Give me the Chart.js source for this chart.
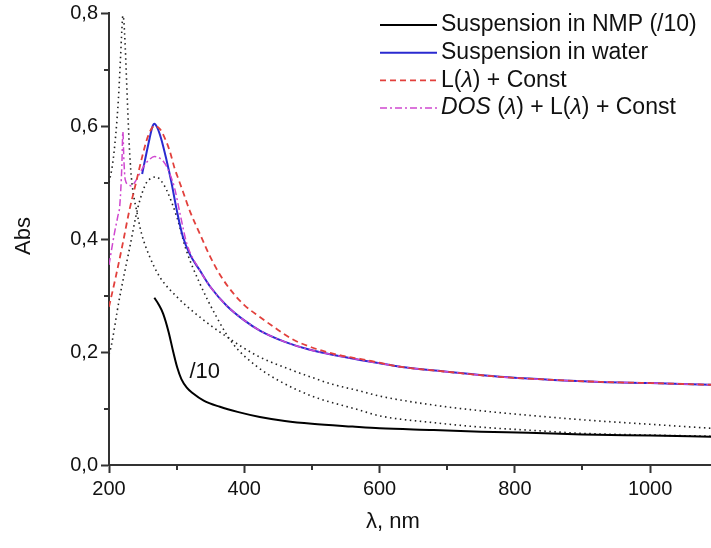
<!DOCTYPE html>
<html>
<head>
<meta charset="utf-8">
<title>Abs spectra</title>
<script src="https://cdn.jsdelivr.net/npm/chart.js@4.4.1/dist/chart.umd.min.js"></script>
<style>
  html, body { margin: 0; padding: 0; background: #fff; }
  #wrap { width: 711px; height: 548px; }
</style>
</head>
<body>
<div id="wrap"><canvas id="absChart" width="711" height="548"></canvas></div>
<script>
// wavelength (nm) / absorbance
const nmpX = [267, 273, 280, 288, 295, 301, 307, 315, 324, 340, 364, 390, 423, 460, 500, 560, 600, 680, 750, 820, 900, 1000, 1090];
const nmpY = [0.296, 0.285, 0.268, 0.236, 0.200, 0.172, 0.152, 0.137, 0.127, 0.114, 0.103, 0.094, 0.085, 0.078, 0.073, 0.068, 0.065, 0.062, 0.059, 0.057, 0.054, 0.052, 0.050];

const waterX = [249, 255, 260, 264, 267, 271, 277, 285, 292, 300, 309, 320, 334, 350, 374, 400, 423, 460, 497, 540, 571, 600, 630, 700, 778, 850, 927, 1000, 1090];
const waterY = [0.515, 0.550, 0.578, 0.598, 0.604, 0.598, 0.578, 0.540, 0.502, 0.452, 0.405, 0.372, 0.345, 0.315, 0.282, 0.256, 0.238, 0.218, 0.204, 0.193, 0.186, 0.180, 0.174, 0.165, 0.156, 0.151, 0.147, 0.145, 0.142];

const lorX = [200, 210, 220, 230, 240, 250, 258, 267, 275, 282, 290, 297, 303, 309, 320, 334, 349, 365, 383, 400, 423, 450, 472, 500, 522, 550, 571, 600, 630, 700, 778, 850, 927, 1000, 1090];
const lorY = [0.280, 0.333, 0.390, 0.450, 0.500, 0.550, 0.583, 0.600, 0.595, 0.580, 0.555, 0.525, 0.505, 0.485, 0.448, 0.410, 0.370, 0.335, 0.305, 0.283, 0.262, 0.239, 0.222, 0.208, 0.200, 0.192, 0.188, 0.181, 0.174, 0.165, 0.156, 0.151, 0.147, 0.145, 0.142];

const dosX = [200, 208, 213, 216, 219, 220.5, 222, 224, 229, 233, 238, 245, 252, 260, 267, 275, 283, 290, 297, 305, 315, 334, 350, 374, 400, 423, 460, 497, 540, 571, 600, 630, 700, 778, 850, 927, 1000, 1090];
const dosY = [0.354, 0.410, 0.440, 0.460, 0.530, 0.590, 0.540, 0.505, 0.496, 0.494, 0.500, 0.515, 0.530, 0.541, 0.546, 0.543, 0.533, 0.515, 0.490, 0.445, 0.392, 0.345, 0.315, 0.282, 0.256, 0.238, 0.218, 0.204, 0.193, 0.186, 0.180, 0.174, 0.165, 0.156, 0.151, 0.147, 0.145, 0.142];

// dotted components (no legend entry)
const dotAX = [200, 205, 210, 214, 217, 219, 220.5, 222, 224, 226, 228, 230, 233, 236, 240, 248, 260, 275, 300, 334, 374, 418, 470, 500, 530, 571, 600, 680, 750, 830, 900, 1000, 1090];
const dotAY = [0.500, 0.530, 0.585, 0.650, 0.720, 0.770, 0.795, 0.785, 0.740, 0.680, 0.620, 0.565, 0.510, 0.480, 0.455, 0.410, 0.369, 0.333, 0.298, 0.262, 0.227, 0.194, 0.168, 0.155, 0.143, 0.131, 0.122, 0.106, 0.096, 0.087, 0.080, 0.072, 0.065];

const dotBX = [200, 203, 215, 230, 243, 255, 263, 270, 277, 285, 300, 314, 334, 359, 383, 418, 450, 500, 571, 600, 680, 750, 830, 900, 1000, 1090];
const dotBY = [0.196, 0.209, 0.292, 0.381, 0.457, 0.499, 0.508, 0.510, 0.503, 0.487, 0.440, 0.381, 0.322, 0.262, 0.215, 0.175, 0.150, 0.122, 0.097, 0.087, 0.075, 0.067, 0.061, 0.056, 0.053, 0.051];

// axis ticks (every value gets a mark, labelled ones get a long mark)
const xTickValues = [200, 300, 400, 500, 600, 700, 800, 900, 1000];
const xTickLabels = ['200', '', '400', '', '600', '', '800', '', '1000'];
const yTickValues = [0, 0.1, 0.2, 0.3, 0.4, 0.5, 0.6, 0.7, 0.8];
const yTickLabels = ['0,0', '', '0,2', '', '0,4', '', '0,6', '', '0,8'];

const FONT = '"Liberation Sans", Arial, sans-serif';
const AXIS = '#333';

const pts = (xs, ys) => xs.map((v, i) => ({ x: v, y: ys[i] }));

const datasets = [
  { label: 'L(λ) + Const', data: pts(lorX, lorY), borderColor: '#e2403c', borderWidth: 1.8, borderDash: [6, 4] },
  { label: 'DOS (λ) + L(λ) + Const', data: pts(dosX, dosY), borderColor: '#d048d0', borderWidth: 1.5, borderDash: [7, 3, 2, 3] },
  { label: 'Suspension in water', data: pts(waterX, waterY), borderColor: '#2a2ad0', borderWidth: 2 },
  { label: 'Suspension in NMP (/10)', data: pts(nmpX, nmpY), borderColor: '#000', borderWidth: 2 },
  { label: 'dotA', data: pts(dotAX, dotAY), borderColor: '#222', borderWidth: 1.6, borderDash: [1.5, 3.5] },
  { label: 'dotB', data: pts(dotBX, dotBY), borderColor: '#222', borderWidth: 1.6, borderDash: [1.5, 3.5] },
];

// legend rows: dataset index + text pieces (italic where the figure has it)
const legendRows = [
  { ds: 3, parts: [['Suspension in NMP (/10)', false]] },
  { ds: 2, parts: [['Suspension in water', false]] },
  { ds: 0, parts: [['L(', false], ['λ', true], [') + Const', false]] },
  { ds: 1, parts: [['DOS', true], [' (', false], ['λ', true], [') + L(', false], ['λ', true], [') + Const', false]] },
];

const labelOf = (vals, labels, v) => {
  const i = vals.findIndex(t => Math.abs(t - v) < 1e-6);
  return i < 0 ? '' : labels[i];
};

const overlay = {
  id: 'overlay',
  afterDraw(chart) {
    const { ctx, scales: { x, y } } = chart;
    ctx.save();

    // short (unlabelled) ticks
    ctx.strokeStyle = AXIS;
    ctx.lineWidth = 2;
    x.ticks.forEach(t => {
      if (labelOf(xTickValues, xTickLabels, t.value)) return;
      const px = Math.round(x.getPixelForValue(t.value));
      ctx.beginPath(); ctx.moveTo(px, x.top); ctx.lineTo(px, x.top + 5); ctx.stroke();
    });
    y.ticks.forEach(t => {
      if (labelOf(yTickValues, yTickLabels, t.value)) return;
      const py = Math.round(y.getPixelForValue(t.value));
      ctx.beginPath(); ctx.moveTo(y.right, py); ctx.lineTo(y.right - 5, py); ctx.stroke();
    });

    // legend
    ctx.textBaseline = 'middle';
    ctx.fillStyle = '#111';
    legendRows.forEach((row, i) => {
      const ds = chart.data.datasets[row.ds];
      const cy = 25 + i * 27.7;
      ctx.strokeStyle = ds.borderColor;
      ctx.lineWidth = ds.borderWidth;
      ctx.setLineDash(ds.borderDash || []);
      ctx.beginPath(); ctx.moveTo(380, cy); ctx.lineTo(437, cy); ctx.stroke();
      ctx.setLineDash([]);
      let tx = 441;
      row.parts.forEach(([txt, it]) => {
        ctx.font = (it ? 'italic ' : '') + '23px ' + FONT;
        ctx.fillText(txt, tx, cy);
        tx += ctx.measureText(txt).width;
      });
    });

    // "/10" note next to the NMP curve
    ctx.font = '22px ' + FONT;
    ctx.fillText('/10', x.getPixelForValue(319), y.getPixelForValue(0.165));

    // axis titles
    ctx.textAlign = 'center';
    ctx.fillText('λ, nm', 393, 522);
    ctx.translate(24, 236);
    ctx.rotate(-Math.PI / 2);
    ctx.fillText('Abs', 0, 0);
    ctx.restore();
  }
};

const tickFont = { family: FONT, size: 20, lineHeight: 1 };

new Chart(document.getElementById('absChart'), {
  type: 'line',
  data: { datasets },
  plugins: [overlay],
  options: {
    responsive: false,
    animation: false,
    devicePixelRatio: 1,
    layout: { padding: { top: 13, right: 0, bottom: 0, left: 0 } },
    plugins: { legend: { display: false }, tooltip: { enabled: false } },
    elements: {
      point: { radius: 0 },
      line: { cubicInterpolationMode: 'monotone', fill: false, borderCapStyle: 'butt' }
    },
    scales: {
      x: {
        type: 'linear',
        min: 200,
        max: 1090,
        afterBuildTicks: s => { s.ticks = xTickValues.map(v => ({ value: v })); },
        afterFit: s => { s.height = 83; },
        border: { display: true, color: AXIS, width: 2 },
        grid: {
          drawOnChartArea: false, drawTicks: true, tickLength: 8, tickWidth: 2,
          tickColor: c => (c.tick && labelOf(xTickValues, xTickLabels, c.tick.value)) ? AXIS : 'rgba(0,0,0,0)'
        },
        ticks: {
          autoSkip: false, maxRotation: 0,
          padding: 6, color: '#111', font: tickFont,
          callback: v => labelOf(xTickValues, xTickLabels, v)
        }
      },
      y: {
        min: 0,
        max: 0.8,
        afterBuildTicks: s => { s.ticks = yTickValues.map(v => ({ value: v })); },
        afterFit: s => { s.width = 109; },
        border: { display: true, color: AXIS, width: 2 },
        grid: {
          drawOnChartArea: false, drawTicks: true, tickLength: 8, tickWidth: 2,
          tickColor: c => (c.tick && labelOf(yTickValues, yTickLabels, c.tick.value)) ? AXIS : 'rgba(0,0,0,0)'
        },
        ticks: {
          autoSkip: false,
          padding: 3, color: '#111', font: tickFont,
          callback: v => labelOf(yTickValues, yTickLabels, v)
        }
      }
    }
  }
});
</script>
</body>
</html>
